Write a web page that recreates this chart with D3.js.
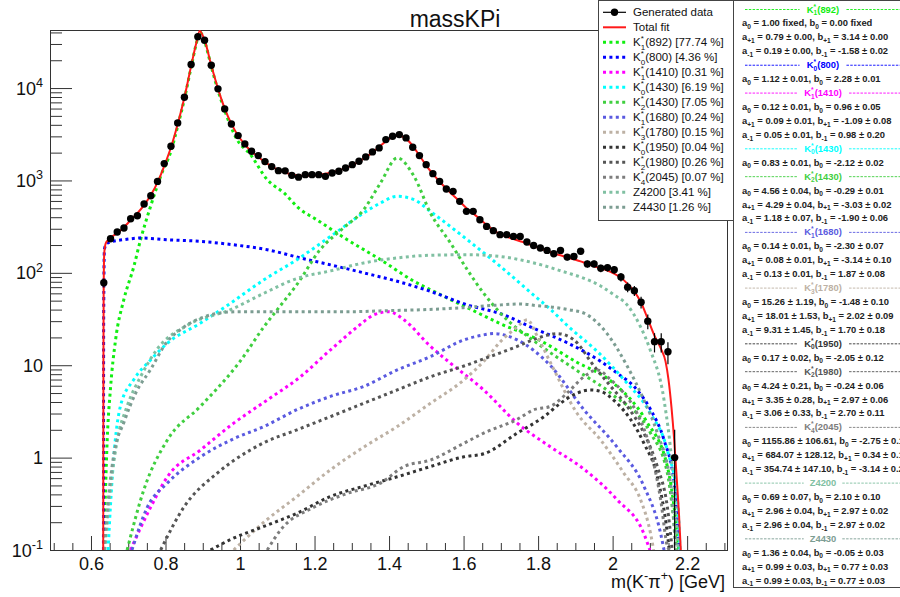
<!DOCTYPE html>
<html>
<head>
<meta charset="utf-8">
<script src="https://cdn.jsdelivr.net/npm/d3@7"></script>
<style>
  body { margin: 0; background: #fff; }
  svg { display: block; font-family: "Liberation Sans", Arial, Helvetica, sans-serif; }
</style>
</head>
<body>
<div id="chart"></div>
<script>
// histogram of generated events (bin centres start at binStart, step binWidth)
var binStart = 0.6344, binWidth = 0.018025;
var dataCounts = [78, 234, 277, 306, 385, 415, 556, 684, 977, 1521,
  2342, 4198, 7950, 17980, 35890, 32960, 17660, 9800, 5950, 4090,
  3057, 2486, 2067, 1857, 1599, 1412, 1277, 1270, 1136, 1086,
  1155, 1155, 1155, 1108, 1206, 1256, 1366, 1483, 1611, 1798,
  2036, 2249, 2768, 3006, 3135, 2887, 2284, 1857, 1483, 1185,
  977, 809, 762, 594, 463, 463, 376, 318, 286, 259,
  259, 248, 248, 216, 198, 186, 175, 161, 175, 148,
  150, 171, 125, 125, 112, 114, 108, 90, 70, 64,
  48, 30, 18, 18, 14, 1];

// total fit
var fitMass = [0.6328, 0.6334, 0.6340, 0.6355, 0.6390, 0.645, 0.652, 0.670, 0.688, 0.706,
  0.724, 0.743, 0.761, 0.779, 0.797, 0.815, 0.833, 0.851, 0.869, 0.882,
  0.892, 0.900, 0.905, 0.923, 0.941, 0.959, 0.977, 0.995, 1.013, 1.031,
  1.049, 1.067, 1.085, 1.103, 1.121, 1.139, 1.157, 1.175, 1.193, 1.211,
  1.229, 1.247, 1.265, 1.283, 1.301, 1.319, 1.337, 1.355, 1.373, 1.391,
  1.409, 1.427, 1.445, 1.464, 1.482, 1.500, 1.518, 1.536, 1.554, 1.572,
  1.590, 1.608, 1.626, 1.644, 1.662, 1.680, 1.698, 1.716, 1.734, 1.752,
  1.770, 1.788, 1.806, 1.824, 1.842, 1.860, 1.878, 1.896, 1.914, 1.932,
  1.950, 1.968, 1.986, 2.004, 2.022, 2.040, 2.058, 2.076, 2.094, 2.112,
  2.130, 2.142, 2.150, 2.158, 2.165, 2.172, 2.178, 2.183];
var fitValues = [0.1, 10, 60, 160, 205, 225, 240, 268, 310, 370,
  440, 545, 700, 960, 1450, 2300, 4100, 8000, 17500, 30000,
  41500, 37000, 33000, 17500, 9800, 6000, 4100, 3050, 2450, 2050,
  1800, 1580, 1420, 1300, 1220, 1160, 1130, 1120, 1130, 1150,
  1180, 1220, 1280, 1360, 1460, 1600, 1780, 2000, 2300, 2650,
  2950, 3050, 2850, 2350, 1850, 1450, 1170, 970, 810, 690,
  590, 500, 440, 380, 330, 290, 262, 245, 232, 220,
  208, 195, 183, 172, 162, 155, 147, 140, 133, 125,
  118, 112, 106, 98, 89, 76, 63, 48, 32, 21,
  15, 11, 7, 3.5, 1.6, 0.6, 0.25, 0.1];

// fit components
var k892Mass = [0.634, 0.639, 0.6435, 0.652, 0.666, 0.688, 0.715, 0.733, 0.760, 0.787, 0.815, 0.833, 0.851, 0.869, 0.882, 0.892, 0.905, 0.923, 0.941, 0.959, 0.992, 1.028, 1.073, 1.118, 1.162, 1.198, 1.288, 1.377, 1.467, 1.520, 1.610, 1.700, 1.800, 1.900, 2.000, 2.090, 2.147, 2.170, 2.180];
var k892Values = [0.1, 0.45, 1.55, 5.4, 18.8, 51, 117, 228, 525, 1110, 2100, 3900, 7700, 17000, 29500, 40500, 32000, 17000, 9400, 5700, 2770, 1905, 1020, 733, 483, 393, 228, 139, 81, 63, 42, 28, 19, 11, 6.5, 2.5, 0.8, 0.2, 0.08];
var k800Mass = [0.6335, 0.634, 0.636, 0.643, 0.700, 0.733, 0.805, 0.894, 0.983, 1.073, 1.162, 1.243, 1.332, 1.422, 1.511, 1.610, 1.700, 1.789, 1.878, 1.968, 2.012, 2.057, 2.102, 2.138, 2.165, 2.178];
var k800Values = [0.1, 30, 180, 210, 232, 238, 228, 219, 201, 178, 145, 122, 100, 81, 63, 45, 36, 25, 17.5, 11, 8.2, 5.9, 3.3, 1.55, 0.53, 0.1];
var k1410Mass = [0.706, 0.760, 0.805, 0.894, 0.983, 1.073, 1.162, 1.243, 1.315, 1.359, 1.400, 1.440, 1.511, 1.565, 1.654, 1.744, 1.834, 1.923, 2.012, 2.084, 2.100];
var k1410Values = [0.1, 0.29, 0.62, 1.21, 2.36, 4.2, 7.5, 14.7, 26, 35, 38, 31, 16, 10.5, 5.4, 2.36, 1.3, 0.75, 0.35, 0.15, 0.1];
var k0_1430Mass = [0.646, 0.652, 0.661, 0.679, 0.715, 0.760, 0.805, 0.894, 0.975, 1.064, 1.153, 1.243, 1.332, 1.377, 1.422, 1.467, 1.511, 1.610, 1.699, 1.789, 1.834, 1.878, 1.968, 2.030, 2.102, 2.147, 2.174, 2.181];
var k0_1430Values = [0.1, 0.29, 1.0, 3.6, 7, 11.4, 17.3, 28.6, 47, 84, 139, 248, 445, 570, 673, 620, 462, 228, 117, 57, 40, 27, 13, 7, 3.0, 1.2, 0.35, 0.1];
var k2_1430Mass = [0.697, 0.742, 0.805, 0.894, 0.983, 1.000, 1.064, 1.100, 1.153, 1.216, 1.275, 1.332, 1.377, 1.422, 1.467, 1.511, 1.565, 1.610, 1.654, 1.699, 1.800, 1.900, 2.000, 2.100, 2.147, 2.172];
var k2_1430Values = [0.1, 0.45, 1.55, 3.6, 9, 11, 26, 40, 75, 180, 300, 483, 940, 1750, 1110, 445, 210, 108, 60, 36.6, 17, 9, 4.8, 1.9, 0.68, 0.1];
var k1680Mass = [0.710, 0.751, 0.805, 0.894, 0.983, 1.064, 1.153, 1.243, 1.332, 1.422, 1.511, 1.601, 1.654, 1.681, 1.744, 1.834, 1.923, 2.012, 2.084, 2.129, 2.138];
var k1680Values = [0.1, 0.29, 0.53, 1.02, 1.6, 2.17, 3.3, 4.6, 5.9, 8.9, 12.4, 18.8, 21.3, 22, 18.8, 9.8, 3.3, 1.3, 0.49, 0.15, 0.1];
var k1780Mass = [0.983, 1.064, 1.153, 1.243, 1.332, 1.422, 1.511, 1.601, 1.654, 1.699, 1.744, 1.771, 1.798, 1.834, 1.905, 1.968, 2.030, 2.075, 2.102, 2.110];
var k1780Values = [0.1, 0.2, 0.38, 0.74, 1.3, 2.17, 3.87, 6.95, 11, 18, 26, 31, 20.5, 10.5, 3, 1.55, 0.68, 0.35, 0.15, 0.1];
var k1950Mass = [0.921, 0.975, 1.064, 1.153, 1.243, 1.332, 1.422, 1.511, 1.601, 1.654, 1.744, 1.816, 1.860, 1.905, 1.941, 1.968, 2.012, 2.048, 2.084, 2.120, 2.147, 2.152];
var k1950Values = [0.1, 0.13, 0.18, 0.25, 0.38, 0.49, 0.62, 0.8, 1.02, 1.1, 1.84, 2.78, 3.87, 5, 5.4, 5.2, 3.87, 2.6, 1.43, 0.62, 0.15, 0.1];
var k1980Mass = [0.787, 0.849, 0.939, 1.028, 1.064, 1.153, 1.243, 1.332, 1.422, 1.511, 1.601, 1.646, 1.744, 1.798, 1.851, 1.896, 1.950, 1.995, 2.039, 2.084, 2.120, 2.147, 2.160];
var k1980Values = [0.1, 0.29, 0.68, 1.21, 1.45, 2.0, 2.78, 3.87, 5.4, 7.5, 9.8, 11.4, 16, 19.6, 22, 18.8, 9.8, 5.9, 3.6, 1.84, 0.8, 0.29, 0.1];
var k2045Mass = [1.073, 1.109, 1.198, 1.288, 1.377, 1.440, 1.511, 1.601, 1.654, 1.744, 1.789, 1.834, 1.878, 1.923, 1.959, 1.995, 2.030, 2.066, 2.102, 2.129, 2.147, 2.152];
var k2045Values = [0.1, 0.165, 0.29, 0.41, 0.53, 0.8, 0.94, 1.43, 1.84, 2.6, 3.3, 3.6, 5, 7.5, 8.9, 6.95, 5, 3.0, 1.2, 0.35, 0.11, 0.1];
var z4200Mass = [0.637, 0.652, 0.670, 0.697, 0.733, 0.778, 0.858, 0.975, 1.064, 1.153, 1.243, 1.332, 1.422, 1.511, 1.610, 1.699, 1.789, 1.878, 1.914, 1.968, 2.003, 2.039, 2.075, 2.100, 2.138, 2.160, 2.176];
var z4200Values = [0.1, 0.45, 1.5, 3.6, 7.5, 15, 27, 40, 60, 87, 105, 128, 145, 155, 157, 150, 128, 100, 90, 72, 58, 45, 26, 15, 4.2, 0.8, 0.1];
var z4430Mass = [0.636, 0.645, 0.660, 0.690, 0.720, 0.760, 0.800, 0.850, 0.900, 0.950, 1.000, 1.100, 1.200, 1.300, 1.400, 1.500, 1.600, 1.700, 1.750, 1.800, 1.850, 1.880, 1.923, 1.985, 2.039, 2.084, 2.120, 2.156, 2.169];
var z4430Values = [0.1, 0.3, 1.0, 2.5, 5, 9, 17, 26, 33, 37, 38, 38, 38, 38, 39, 40, 42, 45, 46, 44, 42, 40, 36.6, 22, 9.8, 4.2, 1.84, 0.5, 0.1];

var componentNames = ['K^{*}_{1}(892)', 'K^{*}_{0}(800)', 'K^{*}_{1}(1410)', 'K^{*}_{0}(1430)', 'K^{*}_{2}(1430)', 'K^{*}_{1}(1680)',
  'K^{*}_{3}(1780)', 'K^{*}_{0}(1950)', 'K^{*}_{2}(1980)', 'K^{*}_{4}(2045)', 'Z4200', 'Z4430'];
var componentFractions = [77.74, 4.36, 0.31, 6.19, 7.05, 0.24, 0.15, 0.04, 0.26, 0.07, 3.41, 1.26];
var componentMass = [k892Mass, k800Mass, k1410Mass, k0_1430Mass, k2_1430Mass, k1680Mass, k1780Mass, k1950Mass, k1980Mass, k2045Mass, z4200Mass, z4430Mass];
var componentValues = [k892Values, k800Values, k1410Values, k0_1430Values, k2_1430Values, k1680Values, k1780Values, k1950Values, k1980Values, k2045Values, z4200Values, z4430Values];
var componentColors = ['#11ee11', '#0000ff', '#ff00ff', '#00ffff', '#3fcf3f', '#5a5ae0', '#bdb1a4', '#333333', '#555555', '#7d7d7d', '#80c0a2', '#7c9d92'];

// helicity amplitudes shown in the side panel
var helicityParams = [
  ['a_{0} = 1.00 fixed, b_{0} = 0.00 fixed', 'a_{+1} = 0.79 ± 0.00, b_{+1} = 3.14 ± 0.00', 'a_{-1} = 0.19 ± 0.00, b_{-1} = -1.58 ± 0.02'],
  ['a_{0} = 1.12 ± 0.01, b_{0} = 2.28 ± 0.01'],
  ['a_{0} = 0.12 ± 0.01, b_{0} = 0.96 ± 0.05', 'a_{+1} = 0.09 ± 0.01, b_{+1} = -1.09 ± 0.08', 'a_{-1} = 0.05 ± 0.01, b_{-1} = 0.98 ± 0.20'],
  ['a_{0} = 0.83 ± 0.01, b_{0} = -2.12 ± 0.02'],
  ['a_{0} = 4.56 ± 0.04, b_{0} = -0.29 ± 0.01', 'a_{+1} = 4.29 ± 0.04, b_{+1} = -3.03 ± 0.02', 'a_{-1} = 1.18 ± 0.07, b_{-1} = -1.90 ± 0.06'],
  ['a_{0} = 0.14 ± 0.01, b_{0} = -2.30 ± 0.07', 'a_{+1} = 0.08 ± 0.01, b_{+1} = -3.14 ± 0.10', 'a_{-1} = 0.13 ± 0.01, b_{-1} = 1.87 ± 0.08'],
  ['a_{0} = 15.26 ± 1.19, b_{0} = -1.48 ± 0.10', 'a_{+1} = 18.01 ± 1.53, b_{+1} = 2.02 ± 0.09', 'a_{-1} = 9.31 ± 1.45, b_{-1} = 1.70 ± 0.18'],
  ['a_{0} = 0.17 ± 0.02, b_{0} = -2.05 ± 0.12'],
  ['a_{0} = 4.24 ± 0.21, b_{0} = -0.24 ± 0.06', 'a_{+1} = 3.35 ± 0.28, b_{+1} = 2.97 ± 0.06', 'a_{-1} = 3.06 ± 0.33, b_{-1} = 2.70 ± 0.11'],
  ['a_{0} = 1155.86 ± 106.61, b_{0} = -2.75 ± 0.11', 'a_{+1} = 684.07 ± 128.12, b_{+1} = 0.34 ± 0.19', 'a_{-1} = 354.74 ± 147.10, b_{-1} = -3.14 ± 0.28'],
  ['a_{0} = 0.69 ± 0.07, b_{0} = 2.10 ± 0.10', 'a_{+1} = 2.96 ± 0.04, b_{+1} = 2.97 ± 0.02', 'a_{-1} = 2.96 ± 0.04, b_{-1} = 2.97 ± 0.02'],
  ['a_{0} = 1.36 ± 0.04, b_{0} = -0.05 ± 0.03', 'a_{+1} = 0.99 ± 0.03, b_{+1} = 0.77 ± 0.03', 'a_{-1} = 0.99 ± 0.03, b_{-1} = 0.77 ± 0.03']
];

var xTickValues = [0.6, 0.8, 1.0, 1.2, 1.4, 1.6, 1.8, 2.0, 2.2];
var xTickLabels = ['0.6', '0.8', '1', '1.2', '1.4', '1.6', '1.8', '2', '2.2'];
var yTickValues = [0.1, 1, 10, 100, 1000, 10000];
var yTickLabels = ['10^{-1}', '1', '10', '10^{2}', '10^{3}', '10^{4}'];

var width = 900, height = 597;
var frameLeft = 50, frameRight = 727, frameTop = 30, frameBottom = 550;

// draws ROOT-like latex: ^{sup} and _{sub}, a sub right after a sup is stacked under it
function richText(text, str, size) {
  var parts = str.match(/\^\{[^}]*\}|_\{[^}]*\}|[^\^_]+/g);
  var level = 0, prevSup = null;
  parts.forEach(function(p) {
    var kind = p.charAt(0) === '^' ? 1 : p.charAt(0) === '_' ? -1 : 0;
    var s = kind ? p.slice(2, -1) : p;
    var target = kind === 1 ? -0.42 * size : kind === -1 ? 0.28 * size : 0;
    var t = text.append('tspan').attr('dy', (target - level).toFixed(2)).text(s);
    if (kind) t.style('font-size', (0.7 * size) + 'px');
    if (kind === -1 && prevSup) t.attr('dx', -prevSup.node().getComputedTextLength());
    prevSup = kind === 1 ? t : null;
    level = target;
  });
}

var svg = d3.select('#chart').append('svg')
    .attr('width', width)
    .attr('height', height);

var x = d3.scaleLinear().domain([0.49, 2.307]).range([frameLeft, frameRight]);
var y = d3.scaleLog().domain([0.1, 42500]).range([frameBottom, frameTop]);

svg.append('defs').append('clipPath').attr('id', 'frameclip')
  .append('rect')
    .attr('x', frameLeft).attr('y', frameTop)
    .attr('width', frameRight - frameLeft).attr('height', frameBottom - frameTop);

// title
svg.append('text')
    .attr('x', 455).attr('y', 27)
    .attr('text-anchor', 'middle')
    .style('font-size', '23px')
    .attr('fill', '#111')
    .text('massKPi');

// axes (ticks point inwards like ROOT)
var xMinor = d3.range(10, 231, 5).map(function(v) { return v / 100; })
    .filter(function(v) { return v >= 0.5 && Math.round(v * 100) % 20 !== 0; });
var yMinor = [];
[0.1, 1, 10, 100, 1000, 10000].forEach(function(d) {
  d3.range(2, 10).forEach(function(k) { if (d * k < 42500) yMinor.push(d * k); });
});

function cleanAxis(g) {
  g.select('.domain').remove();
  g.selectAll('.tick line').attr('stroke', '#333');
}

svg.append('g')
    .attr('transform', 'translate(0,' + frameBottom + ')')
    .call(d3.axisBottom(x).tickValues(xMinor).tickFormat('').tickSize(-7))
    .call(cleanAxis);

var xAxis = svg.append('g')
    .attr('transform', 'translate(0,' + frameBottom + ')')
    .call(d3.axisBottom(x).tickValues(xTickValues)
      .tickFormat(function(d, i) { return xTickLabels[i]; })
      .tickSize(-14).tickPadding(7))
    .call(cleanAxis);
xAxis.selectAll('text')
    .attr('fill', '#111')
    .style('font-size', '18px')
    .style('font-family', '"Liberation Sans", Arial, sans-serif');

svg.append('g')
    .attr('transform', 'translate(' + frameLeft + ',0)')
    .call(d3.axisLeft(y).tickValues(yMinor).tickFormat('').tickSize(-12))
    .call(cleanAxis);
svg.append('g')
    .attr('transform', 'translate(' + frameLeft + ',0)')
    .call(d3.axisLeft(y).tickValues(yTickValues).tickFormat('').tickSize(-22))
    .call(cleanAxis);

yTickValues.forEach(function(v, i) {
  var t = svg.append('text')
      .attr('x', 43).attr('y', y(v) + 6.5)
      .attr('text-anchor', 'end')
      .attr('fill', '#111')
      .style('font-size', '18px');
  richText(t, yTickLabels[i], 18);
});

var xTitle = svg.append('text')
    .attr('x', 725).attr('y', 588)
    .attr('text-anchor', 'end')
    .attr('fill', '#111')
    .style('font-size', '18px');
richText(xTitle, 'm(K^{-}\u03c0^{+}) [GeV]', 18);

// frame
svg.append('rect')
    .attr('x', frameLeft + 0.5).attr('y', frameTop + 0.5)
    .attr('width', frameRight - frameLeft).attr('height', frameBottom - frameTop)
    .attr('fill', 'none').attr('stroke', '#333');

var plot = svg.append('g').attr('clip-path', 'url(#frameclip)');

var line = d3.line()
    .x(function(d) { return x(d[0]); })
    .y(function(d) { return y(Math.max(d[1], 0.05)); })
    .curve(d3.curveMonotoneX);

componentNames.forEach(function(name, k) {
  plot.append('path')
      .datum(d3.zip(componentMass[k], componentValues[k]))
      .attr('d', line)
      .attr('fill', 'none')
      .attr('stroke', componentColors[k])
      .attr('stroke-width', 3)
      .attr('stroke-dasharray', '3,3.4');
});

plot.append('path')
    .datum(d3.zip(fitMass, fitValues))
    .attr('d', line)
    .attr('fill', 'none')
    .attr('stroke', '#ff1a1a')
    .attr('stroke-width', 2);

var points = dataCounts.map(function(c, i) { return { m: binStart + i * binWidth, n: c }; });

plot.selectAll('line.err')
    .data(points)
  .enter().append('line')
    .attr('class', 'err')
    .attr('x1', function(d) { return x(d.m); })
    .attr('x2', function(d) { return x(d.m); })
    .attr('y1', function(d) { return y(d.n + Math.sqrt(d.n)); })
    .attr('y2', function(d) { return y(Math.max(d.n - Math.sqrt(d.n), 0.05)); })
    .attr('stroke', '#000')
    .attr('stroke-width', 1.2);

plot.selectAll('circle.pt')
    .data(points)
  .enter().append('circle')
    .attr('class', 'pt')
    .attr('cx', function(d) { return x(d.m); })
    .attr('cy', function(d) { return y(d.n); })
    .attr('r', 3.7)
    .attr('fill', '#000');

// legend
var legend = svg.append('g');
legend.append('rect')
    .attr('x', 598.5).attr('y', 0.5)
    .attr('width', 135).attr('height', 220)
    .attr('fill', '#fff').attr('stroke', '#444');

function legendRow(i) { return 12.3 + 15 * i; }

legend.append('line')
    .attr('x1', 603).attr('x2', 626)
    .attr('y1', legendRow(0)).attr('y2', legendRow(0))
    .attr('stroke', '#000').attr('stroke-width', 1.2);
legend.append('circle')
    .attr('cx', 614.5).attr('cy', legendRow(0)).attr('r', 3.7).attr('fill', '#000');
legend.append('line')
    .attr('x1', 603).attr('x2', 626)
    .attr('y1', legendRow(1)).attr('y2', legendRow(1))
    .attr('stroke', '#ff1a1a').attr('stroke-width', 2);

['Generated data', 'Total fit'].forEach(function(s, i) {
  legend.append('text')
      .attr('x', 633).attr('y', legendRow(i) + 4)
      .attr('fill', '#111')
      .style('font-size', '11.5px')
      .text(s);
});

componentNames.forEach(function(name, k) {
  var cy = legendRow(k + 2);
  legend.append('line')
      .attr('x1', 603).attr('x2', 626)
      .attr('y1', cy).attr('y2', cy)
      .attr('stroke', componentColors[k])
      .attr('stroke-width', 3)
      .attr('stroke-dasharray', '3,3.4');
  var t = legend.append('text')
      .attr('x', 633).attr('y', cy + 4)
      .attr('fill', '#111')
      .style('font-size', '11.5px');
  richText(t, name + ' [' + componentFractions[k].toFixed(2) + ' %]', 11.5);
});

// side panel with the helicity amplitudes
var panel = svg.append('g');
panel.append('rect')
    .attr('x', 733.5).attr('y', 0.5)
    .attr('width', 200).attr('height', 587)
    .attr('fill', '#fff').attr('stroke', '#444');

var row = 0;
function panelRow(r) { return 12.5 + r * 13.93; }

componentNames.forEach(function(name, k) {
  var by = panelRow(row++);
  var head = panel.append('text')
      .attr('x', 823).attr('y', by)
      .attr('text-anchor', 'middle')
      .attr('fill', componentColors[k])
      .style('font-size', '9.4px')
      .style('font-weight', 'bold');
  richText(head, name, 9.4);
  var w = head.node().getComputedTextLength();
  [[745, 823 - w / 2 - 6], [823 + w / 2 + 6, 905]].forEach(function(seg) {
    panel.append('line')
        .attr('x1', seg[0]).attr('x2', seg[1])
        .attr('y1', by - 3).attr('y2', by - 3)
        .attr('stroke', componentColors[k])
        .attr('stroke-width', 0.9)
        .attr('stroke-dasharray', '2.5,1.3');
  });
  helicityParams[k].forEach(function(s) {
    var t = panel.append('text')
        .attr('x', 742).attr('y', panelRow(row++))
        .attr('fill', '#222')
        .style('font-size', '9.4px')
        .style('font-weight', 'bold');
    richText(t, s, 9.4);
  });
});
</script>
</body>
</html>
